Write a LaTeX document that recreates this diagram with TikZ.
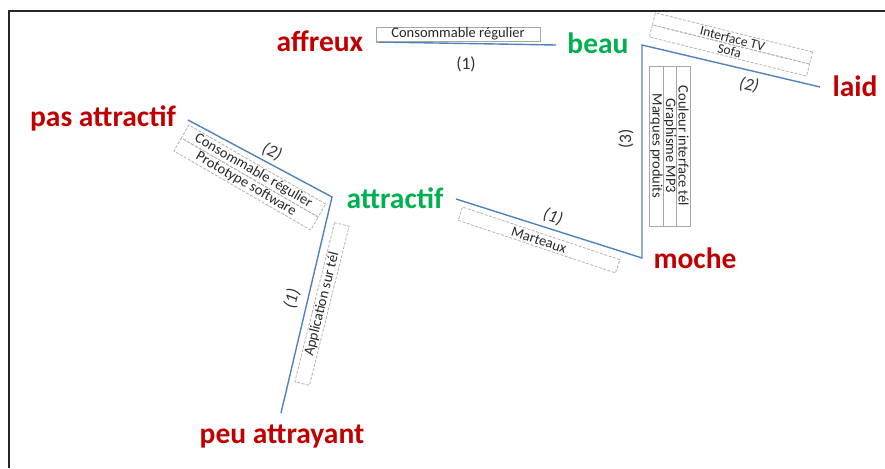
\documentclass[tikz,border=0pt]{standalone}
\usepackage{fontspec}
\setmainfont{Carlito}
\definecolor{redt}{RGB}{192,0,0}
\definecolor{greent}{RGB}{0,176,80}
\definecolor{linec}{RGB}{79,129,189}
\begin{document}
\begin{tikzpicture}[x=1pt,y=-1pt,
  bigl/.style={font=\fontsize{29.5}{29.5}\selectfont\bfseries, anchor=base, inner sep=0pt},
  negl/.style={bigl, text=redt},
  posl/.style={bigl, text=greent},
  conn/.style={draw=linec, line width=1.4pt},
  numl/.style={font=\fontsize{17.5}{17.5}\selectfont, text=black!80, inner sep=0pt},
  inuml/.style={font=\fontsize{17.5}{17.5}\selectfont\itshape, text=black!80, inner sep=0pt},
  dbox/.style={draw=black!30, dash pattern=on 3pt off 1.5pt, line width=0.8pt,
    font=\fontsize{14.5}{14.5}\selectfont, text=black!85, inner sep=0pt},
  sbox/.style={draw=black!35, line width=0.9pt,
    font=\fontsize{14.5}{14.5}\selectfont, text=black!85, inner sep=0pt}
]
\useasboundingbox (0,0) rectangle (885,468);
\draw[black!85, line width=1.4pt] (9,468) -- (9,11) -- (885,11);

% main labels
\node[negl] (affreux) at (320,52) {affreux};
\node[posl] (beau) at (598,54) {beau};
\node[negl] (laid) at (855,97) {laid};
\node[negl] (moche) at (695,268) {moche};
\node[posl] (attractif) at (395,208) {attractif};
\node[negl] (pasattr) at (103,126) {pas attractif};
\node[negl] (peu) at (282,443) {peu attrayant};

% line vertices
\coordinate (ab1) at (376,42);
\coordinate (ab2) at (556,45);
\coordinate (bcorner) at (642,45);
\coordinate (lend) at (820,87);
\coordinate (mcorner) at (642,258);
\coordinate (aend) at (456,199);
\coordinate (pend) at (188,120);
\coordinate (pcorner) at (332,197);
\coordinate (peuend) at (281,413);

\draw[conn] (ab1) -- (ab2);
\draw[conn] (aend) -- (mcorner) -- (bcorner) -- (lend);
\draw[conn] (pend) -- (pcorner) -- (peuend);

% numbers
\node[numl] (n1) at (466,64) {(1)};
\node[inuml, rotate=-12] (n2) at (749,85) {(2)};
\node[inuml, rotate=-25] (n3) at (272,152) {(2)};
\node[inuml, rotate=-18] (n4) at (553,217) {(1)};
\node[inuml, rotate=76] (n5) at (292,299) {(1)};
\node[numl, rotate=90] (n6) at (626,139) {(3)};

% boxes
\node[sbox, minimum width=164, minimum height=14] (b1) at (458,34) {Consommable régulier};
\node[dbox, rotate=-14, minimum width=162, minimum height=12.5, font=\fontsize{13.5}{13.5}\selectfont] (b2a) at (732.5,38.5) {Interface TV};
\node[dbox, rotate=-14, minimum width=162, minimum height=12.5, font=\fontsize{13.5}{13.5}\selectfont] (b2b) at (729.5,50.5) {Sofa};
\node[dbox, rotate=-30, minimum width=158, minimum height=15] (b3a) at (253.5,171) {Consommable régulier};
\node[dbox, rotate=-30, minimum width=158, minimum height=15] (b3b) at (246,184) {Prototype software};
\node[dbox, rotate=-18.5, minimum width=166, minimum height=14] (b4) at (539,240) {Marteaux};
\node[dbox, rotate=76, minimum width=164, minimum height=15] (b5) at (322,304) {Application sur tél};
\node[sbox, rotate=-90, minimum width=160, minimum height=13.5] (c1) at (683.5,146) {Couleur interface tél};
\node[sbox, rotate=-90, minimum width=160, minimum height=13.5] (c2) at (670,146) {Graphisme MP3};
\node[sbox, rotate=-90, minimum width=160, minimum height=13.5] (c3) at (656.5,146) {Marques produits};
\end{tikzpicture}
\end{document}
